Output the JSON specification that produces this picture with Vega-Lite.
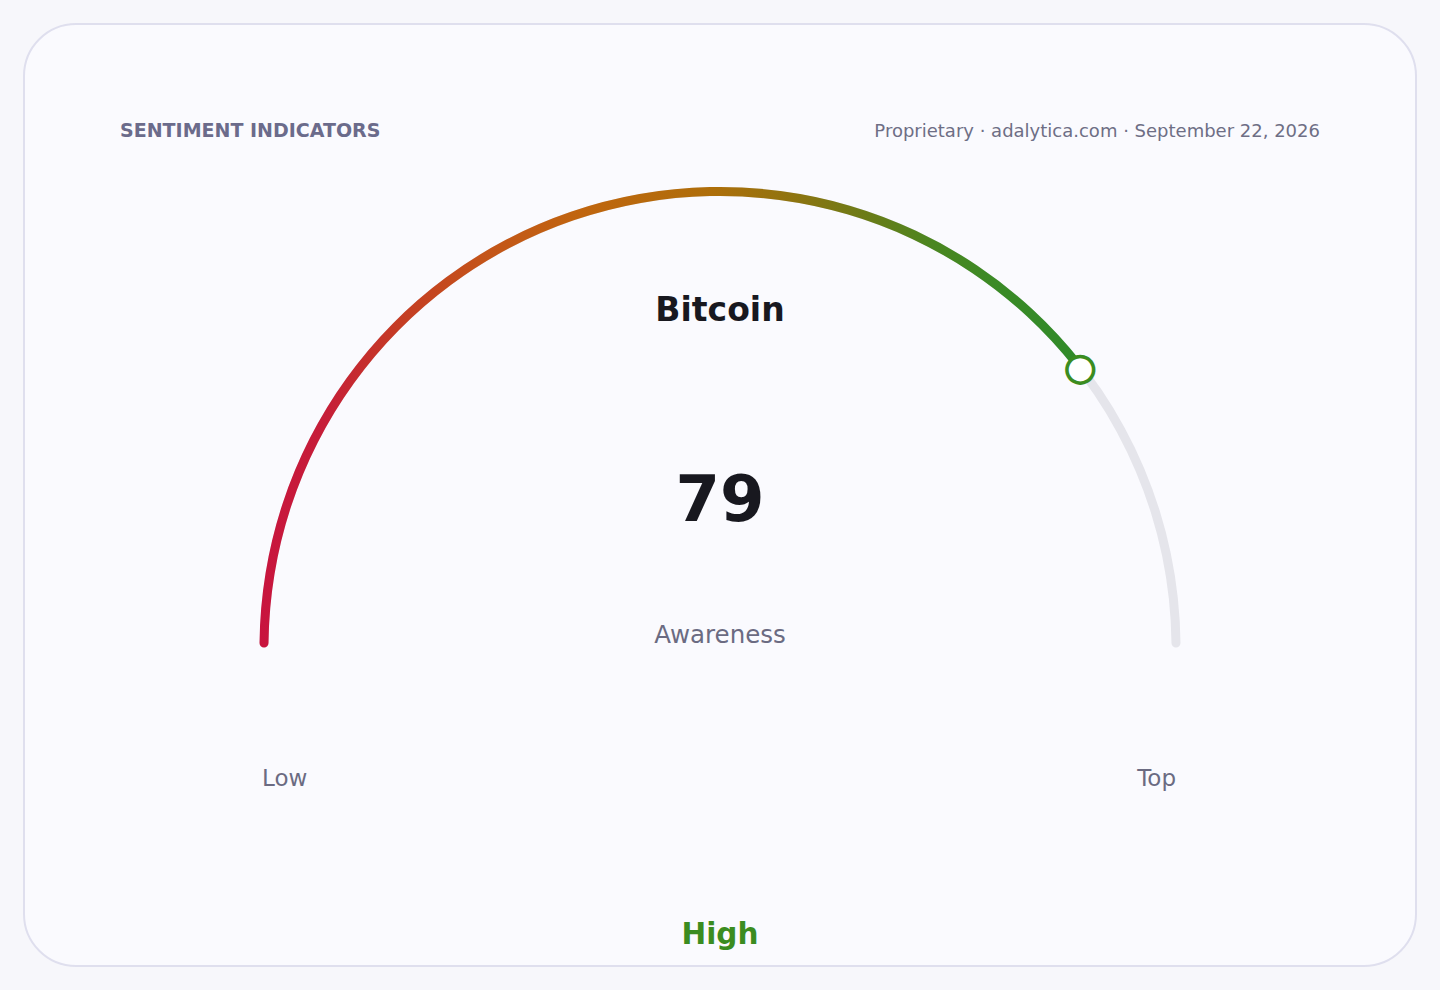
{
  "$schema": "https://vega.github.io/schema/vega-lite/v6.json",
  "width": 1392,
  "height": 942,
  "padding": 24,
  "autosize": {"type": "none"},
  "background": "#f7f7fb",
  "config": {
    "view": {"fill": "#fafafe", "stroke": "#dfdfee", "strokeWidth": 2, "cornerRadius": 52},
    "font": "DejaVu Sans"
  },
  "data": {
    "values": [
      {
        "group": "SENTIMENT INDICATORS",
        "source": "Proprietary · adalytica.com · September 22, 2026",
        "asset": "Bitcoin",
        "metric": "Awareness",
        "value": 79,
        "min": 0,
        "max": 100,
        "rating": "High",
        "low_label": "Low",
        "top_label": "Top"
      }
    ]
  },
  "encoding": {
    "x": {"datum": 50, "type": "quantitative", "scale": {"domain": [0, 100]}, "axis": null},
    "y": {"datum": 66.19, "type": "quantitative", "scale": {"domain": [0, 100], "reverse": true}, "axis": null}
  },
  "layer": [
    {
      "mark": {"type": "arc", "innerRadius": 451.5, "outerRadius": 460.5, "cornerRadius": 4.5, "fill": "#e5e5eb"},
      "encoding": {
        "theta": {"field": "min", "type": "quantitative", "stack": null, "scale": {"domain": [0, 100], "range": [-1.5708, 1.5708]}},
        "theta2": {"field": "max"}
      }
    },
    {
      "mark": {
        "type": "arc",
        "innerRadius": 451.5,
        "outerRadius": 460.5,
        "cornerRadius": 4.5,
        "fill": {
          "gradient": "linear",
          "x1": 0, "y1": 0, "x2": 1, "y2": 0,
          "stops": [
            {"offset": 0, "color": "#c8143e"},
            {"offset": 0.08, "color": "#c61e38"},
            {"offset": 0.17, "color": "#c53c24"},
            {"offset": 0.27, "color": "#c4541a"},
            {"offset": 0.39, "color": "#c0650f"},
            {"offset": 0.55, "color": "#ae6e0a"},
            {"offset": 0.65, "color": "#8e7410"},
            {"offset": 0.74, "color": "#6a7c18"},
            {"offset": 0.82, "color": "#4a8620"},
            {"offset": 0.9, "color": "#3a8a26"},
            {"offset": 1, "color": "#2f8a2a"}
          ]
        }
      },
      "encoding": {
        "theta": {"field": "min", "type": "quantitative", "stack": null},
        "theta2": {"field": "value"}
      }
    },
    {
      "mark": {"type": "text", "text": "●", "radius": 456, "fontSize": 35, "fill": "#ffffff", "stroke": "#3b8c20", "strokeWidth": 3.5, "align": "center", "baseline": "middle"},
      "encoding": {
        "theta": {"field": "value", "type": "quantitative"}
      }
    },
    {
      "mark": {"type": "text", "align": "left", "baseline": "alphabetic", "fontSize": 19, "fontWeight": "bold", "color": "#6b6b8b", "letterSpacing": 0.1},
      "encoding": {
        "x": {"datum": 6.9},
        "y": {"datum": 11.96},
        "text": {"field": "group"}
      }
    },
    {
      "mark": {"type": "text", "align": "right", "baseline": "alphabetic", "fontSize": 18, "color": "#6e6e85"},
      "encoding": {
        "x": {"datum": 93.1},
        "y": {"datum": 12.0},
        "text": {"field": "source"}
      }
    },
    {
      "mark": {"type": "text", "align": "center", "baseline": "alphabetic", "fontSize": 33, "fontWeight": "bold", "color": "#18181f"},
      "encoding": {
        "y": {"datum": 31.5},
        "text": {"field": "asset"}
      }
    },
    {
      "mark": {"type": "text", "align": "center", "baseline": "alphabetic", "fontSize": 64, "fontWeight": "bold", "color": "#18181f"},
      "encoding": {
        "y": {"datum": 52.73},
        "text": {"field": "value"}
      }
    },
    {
      "mark": {"type": "text", "align": "center", "baseline": "alphabetic", "fontSize": 24.5, "color": "#6b6b82"},
      "encoding": {
        "y": {"datum": 65.68},
        "text": {"field": "metric"}
      }
    },
    {
      "mark": {"type": "text", "align": "left", "baseline": "alphabetic", "fontSize": 23, "color": "#6b6b82"},
      "encoding": {
        "x": {"datum": 17.1},
        "y": {"datum": 80.89},
        "text": {"field": "low_label"}
      }
    },
    {
      "mark": {"type": "text", "align": "right", "baseline": "alphabetic", "fontSize": 23, "color": "#6b6b82"},
      "encoding": {
        "x": {"datum": 82.76},
        "y": {"datum": 80.89},
        "text": {"field": "top_label"}
      }
    },
    {
      "mark": {"type": "text", "align": "center", "baseline": "alphabetic", "fontSize": 29.5, "fontWeight": "bold", "color": "#3b8c20"},
      "encoding": {
        "y": {"datum": 97.66},
        "text": {"field": "rating"}
      }
    }
  ]
}
